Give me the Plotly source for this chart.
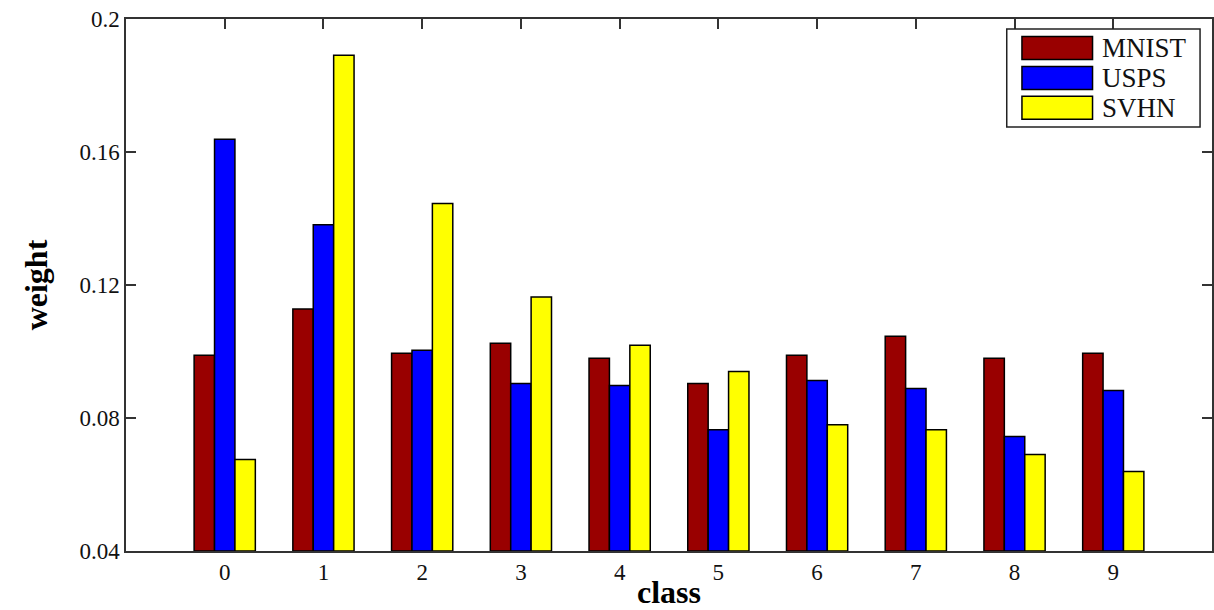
import plotly.graph_objects as go

classes = [0, 1, 2, 3, 4, 5, 6, 7, 8, 9]
mnist = [0.0989, 0.1128, 0.0995, 0.1025, 0.0980, 0.0904, 0.0989, 0.1046, 0.0980, 0.0995]
usps = [0.1638, 0.1381, 0.1004, 0.0904, 0.0898, 0.0765, 0.0913, 0.0889, 0.0744, 0.0883]
svhn = [0.0675, 0.1891, 0.1445, 0.1164, 0.1019, 0.0940, 0.0780, 0.0765, 0.0690, 0.0639]

series_names = ["MNIST", "USPS", "SVHN"]
series_vals = [mnist, usps, svhn]
series_colors = ["#990000", "#0000FF", "#FFFF00"]

y_ticks = [0.04, 0.08, 0.12, 0.16, 0.2]
y_ticklabels = ["0.04", "0.08", "0.12", "0.16", "0.2"]
y_base = 0.04

FONT = "Liberation Serif"

fig = go.Figure()
for name, vals, col in zip(series_names, series_vals, series_colors):
    fig.add_trace(go.Bar(
        x=classes, y=[v - y_base for v in vals], base=y_base, name=name,
        marker=dict(color=col, line=dict(color="black", width=1.5)),
        showlegend=False,
    ))

fig.update_layout(
    width=1214, height=610,
    margin=dict(l=126, r=2, t=19, b=59),
    paper_bgcolor="white", plot_bgcolor="white",
    barmode="group", bargap=0.38, bargroupgap=0,
    font=dict(family=FONT, color="#111111", size=23),
)
fig.update_xaxes(
    range=[-1, 10], tickmode="array", tickvals=classes,
    ticktext=[str(c) for c in classes],
    ticks="inside", ticklen=10, tickwidth=1.5, tickcolor="#333333",
    showline=True, linecolor="#333333", linewidth=1.5, mirror="ticks",
    showgrid=False, zeroline=False, layer="below traces", automargin=False,
    tickfont=dict(family=FONT, size=23),
    title=dict(text="<b>class</b>", font=dict(family=FONT, size=32, color="black"), standoff=3),
)
fig.update_yaxes(
    range=[0.04, 0.2], tickmode="array", tickvals=y_ticks, ticktext=y_ticklabels,
    ticks="inside", ticklen=10, tickwidth=1.5, tickcolor="#333333",
    showline=True, linecolor="#333333", linewidth=1.5, mirror="ticks",
    showgrid=False, zeroline=False, automargin=False,
    tickfont=dict(family=FONT, size=23),
    title=dict(text="<b>weight</b>", font=dict(family=FONT, size=32, color="black"), standoff=22),
)

# custom legend (wide swatches like the original)
fig.add_shape(type="rect", xref="paper", yref="paper",
              x0=0.811, x1=0.989, y0=0.797, y1=0.981,
              line=dict(color="#222222", width=1.5), fillcolor="white", layer="above")
row_y = [0.9455, 0.889, 0.833]
for name, col, yc in zip(series_names, series_colors, row_y):
    fig.add_shape(type="rect", xref="paper", yref="paper",
                  x0=0.825, x1=0.890, y0=yc - 0.0216, y1=yc + 0.0216,
                  line=dict(color="black", width=1.5), fillcolor=col, layer="above")
    fig.add_annotation(xref="paper", yref="paper", x=0.897, y=yc, text=name,
                       showarrow=False, xanchor="left", yanchor="middle",
                       font=dict(family=FONT, size=27, color="#111111"))

fig.write_html("out.html", config={"displayModeBar": False},
               post_script="document.body.style.margin='0';")
